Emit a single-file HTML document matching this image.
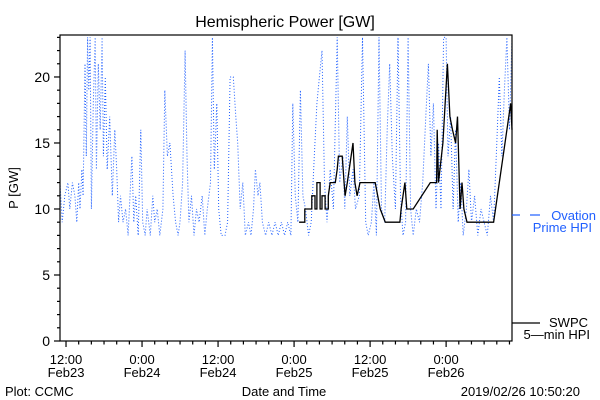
<!DOCTYPE html>
<html><head><meta charset="utf-8"><style>
html,body{margin:0;padding:0;background:#fff;}
svg{display:block;font-family:"Liberation Sans",sans-serif;}
</style></head><body>
<svg id="chart" width="600" height="400" viewBox="0 0 600 400" xmlns="http://www.w3.org/2000/svg">
<rect x="0" y="0" width="600" height="400" fill="#fff"/>
<text x="285" y="27" font-size="16" text-anchor="middle">Hemispheric Power [GW]</text>
<text transform="translate(18,188) rotate(-90)" font-size="13" text-anchor="middle">P [GW]</text>
<g id="yticks"></g>
<g id="xticks"></g>
<g id="series"></g>
<rect x="60" y="35" width="452" height="306" fill="none" stroke="#000" stroke-width="1.2"/>
<line x1="512" y1="215" x2="520" y2="215" stroke="#1f5fff" stroke-width="1.2"/>
<line x1="530" y1="215" x2="540" y2="215" stroke="#1f5fff" stroke-width="1.2"/>
<text x="596" y="220" font-size="13" fill="#1f5fff" text-anchor="end">Ovation</text>
<text x="592" y="232" font-size="13" fill="#1f5fff" text-anchor="end">Prime HPI</text>
<line x1="512" y1="323" x2="540" y2="323" stroke="#000" stroke-width="1.2"/>
<text x="588" y="327" font-size="13" text-anchor="end">SWPC</text>
<text x="590" y="339" font-size="13" text-anchor="end">5—min HPI</text>
<text x="5" y="396" font-size="13">Plot: CCMC</text>
<text x="284" y="396" font-size="13" text-anchor="middle">Date and Time</text>
<text x="580" y="396" font-size="13" text-anchor="end">2019/02/26 10:50:20</text>
</svg>
<script>
const blueHours=[11.05,11.4,11.8,12.3,12.6,13.0,13.4,13.7,14.0,14.2,14.5,14.7,15.0,15.2,15.4,15.6,15.8,16.0,16.3,16.6,16.8,17.1,17.4,17.7,17.9,18.2,18.5,18.9,19.3,19.7,20.0,20.3,20.6,21.0,21.4,21.8,22.1,22.4,22.7,23.0,23.4,23.8,24.1,24.5,24.8,25.3,25.7,26.0,26.4,26.8,27.3,27.6,28.0,28.4,28.9,29.3,29.7,30.0,30.4,30.8,31.1,31.4,31.8,32.2,32.6,33.0,33.5,33.9,34.3,34.8,35.1,35.4,35.8,36.1,36.5,37.1,37.5,37.9,38.4,38.8,39.1,39.5,39.9,40.3,40.8,41.2,41.6,41.9,42.3,42.6,43.0,43.5,44.0,44.5,45.0,45.5,46.0,46.5,47.0,47.5,47.8,48.2,48.6,49.0,49.4,49.8,50.3,50.7,51.2,51.6,52.0,52.4,52.8,53.2,53.7,54.2,54.8,55.2,55.7,56.0,56.4,56.8,57.3,57.7,58.3,58.8,59.3,59.7,60.2,60.6,61.0,61.4,61.8,62.3,62.7,63.1,63.5,64.0,64.4,64.8,65.2,65.6,66.0,66.4,66.8,67.3,67.8,68.3,68.8,69.2,69.6,70.0,70.4,70.8,71.2,71.6,72.0,72.3,72.7,73.1,73.5,73.9,74.3,74.7,75.2,75.6,76.0,76.5,77.0,77.5,78.0,78.5,79.0,79.5,80.0,80.4,80.8,81.2,81.6,82.0,82.4];
const blueValues=[12,9,11,12,10,12,11,9,12,10,13,11,21,14,23,19,23,10,18,23,13,21,16,23,14,20,13,17,11,16,13,9,11,9,10,8,11,14,9,11,8,16,9,8,10,8,11,9,10,8,10,19,14,15,11,9,8,9,12,22,14,9,11,8,10,9,11,8,10,12,23,13,18,10,8,8,9,20,20,17,15,10,12,8,9,8,10,13,11,12,9,8,9,8,9,8,9,8,9,8,18,11,9,19,11,10,8,9,14,18,20,22,12,9,13,10,23,12,14,10,17,11,13,10,11,23,9,8,9,12,8,23,10,9,16,21,14,10,23,11,8,9,23,10,8,10,9,12,17,21,14,18,10,15,10,23,23,14,17,10,16,9,12,8,10,13,9,11,8,10,9,8,11,9,15,20,14,19,23,16,23];
const blackHours=[48.8,49.7,49.7,50.8,50.8,51.3,51.3,51.6,51.6,52.1,52.1,52.4,52.4,52.9,52.9,53.4,53.4,53.7,54.5,54.8,55.0,55.6,55.9,56.05,56.4,56.7,57.3,57.6,57.95,58.4,59.2,60.8,61.2,61.6,62.4,64.7,64.9,65.2,65.5,65.8,66.8,69.5,70.5,70.6,70.8,71.5,72.2,72.6,73.0,73.5,73.8,74.2,74.5,74.8,75.3,79.5,82.2,82.4];
const blackValues=[9,9,10,10,11,11,10,10,12,12,10,10,11,11,10,10,11,12,12,13,14,14,12,11,12,13,15,12,11,12,12,12,11,10,9,9,10,11,12,10,10,12,12,16,12,15,21,17,16,15,17,10,12,10,9,9,18,16];
const yTickLabels=["0","5","10","15","20"];
const xTickLabels=[["12:00","Feb23"],["0:00","Feb24"],["12:00","Feb24"],["0:00","Feb25"],["12:00","Feb25"],["0:00","Feb26"]];
const xTickHours=[12,24,36,48,60,72];

const NS="http://www.w3.org/2000/svg";
const X0=60,X1=512,Y0=341,Y1=35,HMIN=11.05,HMAX=82.4,VMAX=23.18;
function xs(h){return X0+(h-HMIN)/(HMAX-HMIN)*(X1-X0);}
function ys(v){return Y0-v/VMAX*(Y0-Y1);}
function mk(tag,attrs,parent){const e=document.createElementNS(NS,tag);for(const k in attrs)e.setAttribute(k,attrs[k]);parent.appendChild(e);return e;}

const yg=document.getElementById('yticks');
for(let v=0;v<=23;v++){
  const major=v%5===0;
  const t=mk('line',{x1:major?54:57,x2:60,y1:ys(v),y2:ys(v),stroke:'#000','stroke-width':1.2},yg);
  
  
}
yTickLabels.forEach(s=>{
  const v=parseFloat(s);
  const t=mk('text',{x:50,y:ys(v)+5,'font-size':14,'text-anchor':'end'},yg);
  t.textContent=s;
  
  
});
const xg=document.getElementById('xticks');
for(let h=12;h<=HMAX;h+=2){
  const major=(h%12===0);
  const t=mk('line',{x1:xs(h),x2:xs(h),y1:Y0,y2:Y0+(major?6:3.5),stroke:'#000','stroke-width':1.2},xg);
  
  
}
xTickLabels.forEach((lab,i)=>{
  const x=xs(xTickHours[i]);
  const t1=mk('text',{x:x,y:364,'font-size':13,'text-anchor':'middle'},xg);
  t1.textContent=lab[0];
  
  
  const t2=mk('text',{x:x,y:377,'font-size':13,'text-anchor':'middle'},xg);
  t2.textContent=lab[1];
  
  
});
const sg=document.getElementById('series');
const bp=blueHours.map((h,i)=>xs(h).toFixed(1)+','+ys(Math.min(blueValues[i],VMAX)).toFixed(1)).join(' ');
const bl=mk('polyline',{points:bp,fill:'none',stroke:'#1f5fff','stroke-width':1,'stroke-dasharray':'1,2'},sg);


const kp=blackHours.map((h,i)=>xs(h).toFixed(1)+','+ys(blackValues[i]).toFixed(1)).join(' ');
const kl=mk('polyline',{points:kp,fill:'none',stroke:'#000','stroke-width':1.3},sg);


</script>
</body></html>
